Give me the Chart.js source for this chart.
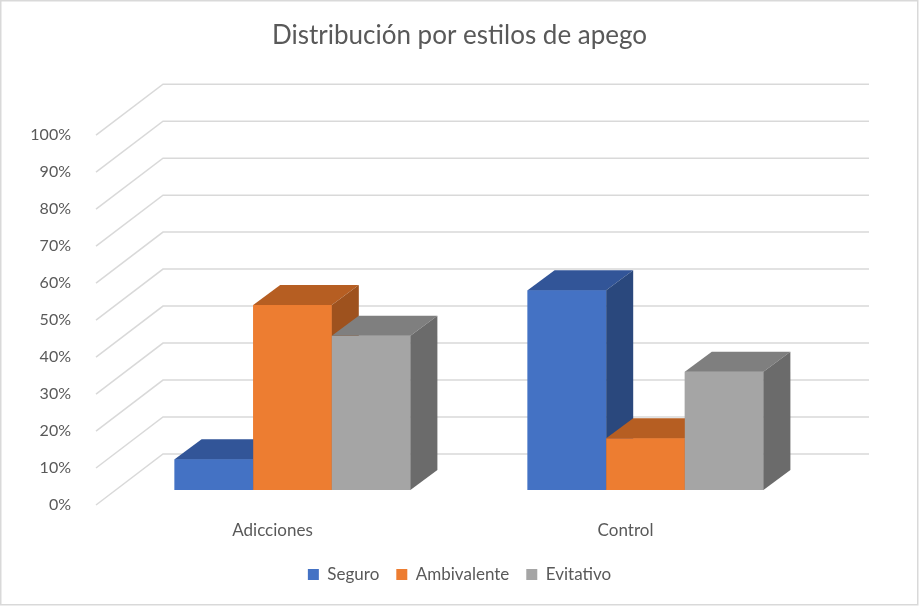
<!DOCTYPE html>
<html>
<head>
<meta charset="utf-8">
<script src="https://cdn.jsdelivr.net/npm/chart.js@4"></script>
<style>
  body { margin: 0; background: #fff; }
  canvas { display: block; }
</style>
</head>
<body>
<canvas id="apegoChart" width="919" height="606"></canvas>
<script>
// Datos
var categorias = ['Adicciones', 'Control'];
var seguro = [0.083, 0.54];
var ambivalente = [0.50, 0.14];
var evitativo = [0.417, 0.32];
var ticksY = [0, 0.1, 0.2, 0.3, 0.4, 0.5, 0.6, 0.7, 0.8, 0.9, 1];

// Desplazamientos de la perspectiva (plano de barras -> frente / fondo / profundidad de barra)
var FRENTE = { dx: -20, dy: 15 };
var FONDO = { dx: 47, dy: -36 };
var PROF = { dx: 27, dy: -20 };

var efecto3d = {
  id: 'efecto3d',
  beforeDraw: function(chart) {
    var ctx = chart.ctx;
    ctx.save();
    ctx.fillStyle = '#fff';
    ctx.fillRect(0, 0, chart.width, chart.height);
    ctx.strokeStyle = '#D9D9D9';
    ctx.lineWidth = 1.5;
    ctx.strokeRect(0.75, 0.75, chart.width - 2, chart.height - 2);
    ctx.restore();
  },
  beforeDatasetsDraw: function(chart) {
    var ctx = chart.ctx, y = chart.scales.y, area = chart.chartArea;
    ctx.save();
    ctx.strokeStyle = '#D9D9D9';
    ctx.lineWidth = 1.5;
    ticksY.forEach(function(v) {
      var py = y.getPixelForValue(v);
      ctx.beginPath();
      ctx.moveTo(area.left + FRENTE.dx, py + FRENTE.dy);
      ctx.lineTo(area.left + FONDO.dx, py + FONDO.dy);
      ctx.lineTo(area.right + FONDO.dx, py + FONDO.dy);
      ctx.stroke();
    });
    ctx.restore();
  },
  afterDatasetsDraw: function(chart) {
    var ctx = chart.ctx;
    var barras = [];
    chart.data.datasets.forEach(function(ds, i) {
      chart.getDatasetMeta(i).data.forEach(function(el) {
        barras.push({ el: el, ds: ds });
      });
    });
    // pintar de izquierda a derecha para que se tapen como en 3D
    barras.sort(function(a, b) { return a.el.x - b.el.x; });
    ctx.save();
    barras.forEach(function(b) {
      var p = b.el.getProps(['x', 'y', 'base', 'width'], true);
      var l = p.x - p.width / 2, r = p.x + p.width / 2;
      ctx.fillStyle = b.ds.backgroundColor;
      ctx.fillRect(l, p.y, r - l, p.base - p.y);
      // cara superior
      ctx.fillStyle = b.ds.colorSuperior;
      ctx.beginPath();
      ctx.moveTo(l, p.y);
      ctx.lineTo(l + PROF.dx, p.y + PROF.dy);
      ctx.lineTo(r + PROF.dx, p.y + PROF.dy);
      ctx.lineTo(r, p.y);
      ctx.closePath();
      ctx.fill();
      // cara lateral
      ctx.fillStyle = b.ds.colorLateral;
      ctx.beginPath();
      ctx.moveTo(r, p.y);
      ctx.lineTo(r + PROF.dx, p.y + PROF.dy);
      ctx.lineTo(r + PROF.dx, p.base + PROF.dy);
      ctx.lineTo(r, p.base);
      ctx.closePath();
      ctx.fill();
    });
    ctx.restore();
  }
};

Chart.defaults.font.family = 'Lato';
Chart.defaults.color = '#595959';

var ctx = document.getElementById('apegoChart').getContext('2d');
var apegoChart = new Chart(ctx, {
  type: 'bar',
  data: {
    labels: categorias,
    datasets: [
      { label: 'Seguro', data: seguro, backgroundColor: '#4472C4', colorSuperior: '#325598', colorLateral: '#2A487D', borderWidth: 0 },
      { label: 'Ambivalente', data: ambivalente, backgroundColor: '#ED7D31', colorSuperior: '#B65E22', colorLateral: '#9E521E', borderWidth: 0 },
      { label: 'Evitativo', data: evitativo, backgroundColor: '#A5A5A5', colorSuperior: '#7F7F7F', colorLateral: '#6B6B6B', borderWidth: 0 }
    ]
  },
  options: {
    responsive: false,
    animation: false,
    layout: { padding: { left: 0, right: 0, top: 0, bottom: 13 } },
    datasets: { bar: { categoryPercentage: 0.668, barPercentage: 1.0 } },
    plugins: {
      title: {
        display: true,
        text: 'Distribución por estilos de apego',
        font: { size: 26, weight: 'normal' },
        color: '#595959',
        padding: { top: 20, bottom: 69 }
      },
      legend: {
        position: 'bottom',
        labels: { boxWidth: 11, boxHeight: 11, padding: 17, font: { size: 17 }, color: '#595959' }
      },
      tooltip: { enabled: false }
    },
    scales: {
      x: {
        grid: { display: false },
        border: { display: false },
        ticks: { padding: 22, labelOffset: -20, font: { size: 17 }, color: '#595959' },
        afterFit: function(s) { s.height = 59; }
      },
      y: {
        min: 0,
        max: 1,
        grid: { display: false },
        border: { display: false },
        afterBuildTicks: function(s) { s.ticks = ticksY.map(function(v) { return { value: v }; }); },
        ticks: {
          padding: 37,
          labelOffset: 15,
          font: { size: 16 },
          color: '#595959',
          callback: function(v) { return Math.round(v * 100) + '%'; }
        },
        afterFit: function(s) { s.width = 116; }
      },
      // eje vacío a la derecha: reserva el espacio de la pared del fondo
      derecha: {
        position: 'right',
        grid: { display: false },
        border: { display: false },
        ticks: { display: false },
        afterFit: function(s) { s.width = 97; }
      }
    }
  },
  plugins: [efecto3d]
});
</script>
</body>
</html>
